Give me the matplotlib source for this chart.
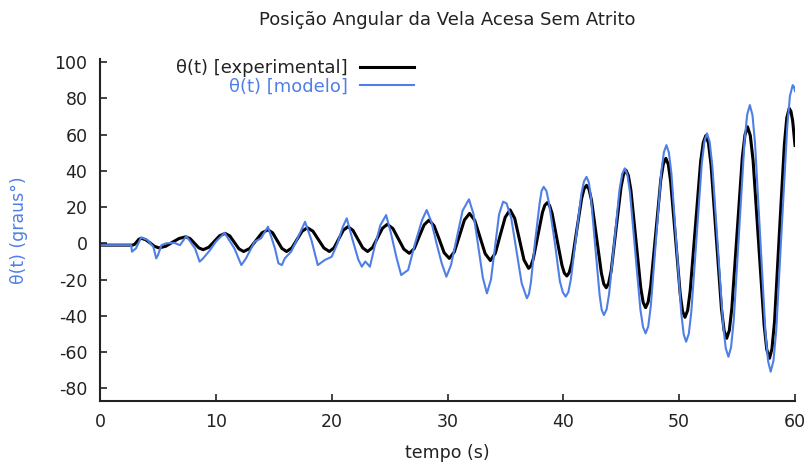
import numpy as np
import matplotlib
matplotlib.use("Agg")
import matplotlib.pyplot as plt

# theta(t): black (experimental) and blue (modelo)
exp_t = [0, 2.8, 2.99, 3.18, 3.36, 3.55,
         3.94, 4.33, 4.71, 5.1, 5.68, 6.25, 6.83, 7.4,
         7.78, 8.15, 8.53, 8.9, 9.38, 9.85, 10.33, 10.8,
         11.2, 11.6, 12.0, 12.4, 12.93, 13.45, 13.98, 14.5,
         14.9, 15.3, 15.7, 16.1, 16.55, 17.0, 17.45, 17.9,
         18.38, 18.85, 19.33, 19.8, 20.2, 20.6, 21.0, 21.4,
         21.83, 22.25, 22.68, 23.1, 23.53, 23.95, 24.38, 24.8,
         25.28, 25.75, 26.23, 26.7, 27.13, 27.55, 27.98, 28.4,
         28.84, 29.28, 29.71, 30.15, 30.59, 31.03, 31.46, 31.9,
         32.35, 32.8, 33.25, 33.7, 34.13, 34.55, 34.98, 35.4,
         35.8, 36.2, 36.6, 37.0,
         37.2, 37.4, 37.8, 38.2, 38.4, 38.6,
         38.81, 39.03, 39.45, 39.88, 40.09, 40.3,
         40.51, 40.73, 41.15, 41.58, 41.79, 42.0,
         42.21, 42.43, 42.85, 43.28, 43.49, 43.7,
         43.91, 44.13, 44.55, 44.98, 45.19, 45.4,
         45.61, 45.83, 46.25, 46.68, 46.89, 47.1,
         47.32, 47.54, 47.98, 48.41, 48.63, 48.85,
         49.06, 49.26, 49.68, 50.09, 50.29, 50.5,
         50.73, 50.95, 51.4, 51.85, 52.08, 52.3,
         52.53, 52.75, 53.2, 53.65, 53.88, 54.1,
         54.33, 54.55, 55.0, 55.45, 55.68, 55.9,
         56.14, 56.38, 56.85, 57.33, 57.56, 57.8,
         58.01, 58.23, 58.65, 59.08, 59.29, 59.5,
         59.65, 59.8, 60]
exp_theta = [-1, -1, -0.5, 0.9, 2.3, 2.8,
             2.0, 0.2, -1.7, -2.5, -1.6, 0.6, 2.7, 3.6,
             2.6, 0.1, -2.5, -3.5, -2.2, 1.0, 4.2, 5.5,
             4.1, 0.5, -3.1, -4.5, -2.8, 1.5, 5.8, 7.5,
             5.8, 1.5, -2.8, -4.5, -2.6, 2.1, 6.7, 8.6,
             6.7, 2.1, -2.6, -4.5, -2.5, 2.4, 7.2, 9.2,
             7.2, 2.4, -2.5, -4.5, -2.3, 3.0, 8.3, 10.5,
             8.2, 2.5, -3.2, -5.5, -2.9, 3.7, 10.2, 12.8,
             9.7, 2.3, -5.2, -8.3, -4.7, 4.1, 12.9, 16.5,
             12.7, 3.5, -5.7, -9.5, -5.4, 4.5, 14.4, 18.5,
             13.8, 2.4, -9.1, -13.8,
             -12.4, -8.6, 4.3, 17.2, 21.0, 22.4,
             20.9, 16.5, 2.2, -12.1, -16.5, -18.0,
             -16.1, -10.8, 7.0, 24.8, 30.1, 32.0,
             29.9, 23.8, 3.8, -16.3, -22.4, -24.5,
             -22.0, -15.1, 8.0, 31.0, 37.9, 40.4,
             37.5, 29.4, 2.5, -24.5, -32.6, -35.5,
             -32.4, -23.6, 5.7, 35.0, 43.8, 46.9,
             43.6, 34.2, 3.1, -28.1, -37.5, -40.8,
             -37.0, -26.3, 9.4, 45.0, 55.7, 59.5,
             55.3, 43.3, 3.6, -36.2, -48.2, -52.4,
             -48.0, -35.5, 6.0, 47.4, 59.9, 64.3,
             59.5, 45.8, 0.5, -44.9, -58.6, -63.4,
             -58.2, -43.4, 5.6, 54.5, 69.3, 74.5,
             72.8, 67.5, 54.0]

mod_t = [0, 2.7, 2.75, 3.1, 3.55, 4.1, 4.6, 4.85, 5.0, 5.3, 5.7, 6.4,
         6.9, 7.45, 8.2, 8.6, 8.9, 9.5, 10.0, 10.75, 11.6, 12.2, 12.6,
         13.35, 13.9, 14.5, 15.1, 15.4, 15.7, 15.95, 16.5, 17.0, 17.7,
         18.25, 18.8, 19.4, 20.0, 20.5, 20.95, 21.3, 21.8, 22.3, 22.6,
         22.9, 23.3, 23.7, 24.2, 24.7, 25.1, 25.6, 26.0, 26.6, 27.2,
         27.8, 28.2, 28.6, 29.05, 29.5, 29.9, 30.3, 30.8, 31.3, 31.85,
         32.25, 32.65, 33.05, 33.4, 33.75, 34.1, 34.45, 34.8, 35.1,
         35.5, 35.95, 36.4, 36.85,
         37.03, 37.2, 37.55, 37.95, 38.12, 38.3,
         38.54, 38.75, 39.25, 39.7, 39.96, 40.2,
         40.43, 40.65, 41.1, 41.55, 41.78, 42.0,
         42.19, 42.38, 42.75, 43.13, 43.31, 43.5,
         43.73, 43.95, 44.4, 44.85, 45.08, 45.3,
         45.53, 45.75, 46.2, 46.65, 46.88, 47.1,
         47.33, 47.55, 48.0, 48.45, 48.68, 48.9,
         49.11, 49.33, 49.75, 50.18, 50.39, 50.6,
         50.83, 51.05, 51.5, 51.95, 52.18, 52.4,
         52.63, 52.86, 53.33, 53.79, 54.02, 54.25,
         54.48, 54.71, 55.18, 55.64, 55.87, 56.1,
         56.33, 56.55, 57.0, 57.45, 57.68, 57.9,
         58.14, 58.38, 58.85, 59.33, 59.56, 59.8,
         59.9, 60]
mod_theta = [-1, -1, -4.6, -2.8, 3.3, 1.8, -1.9, -8.3, -6.5, -1, 0, 0.3,
             -1, 4, -2.8, -10.1, -8.3, -3.7, 0.9, 5.8, -2.8, -12, -8.3,
             0.9, 2.8, 9.2, -2.8, -11, -12, -8.3, -4.6, 2, 11.9,
             1.8, -12, -9.2, -7.4, 0, 9, 13.8, 2, -9, -12.9,
             -10, -12.9, -2, 10, 15.6, 6, -8, -17.5, -14.7, 0,
             12.8, 18.4, 12, 0, -11, -18.4, -12, 3, 18, 24.3,
             16, -1.5, -19, -27.6, -20, -2, 16, 23, 22,
             14, -4, -22, -30.3,
             -28.0, -21.5, 0.5, 22.0, 28.9, 31.2,
             28.9, 22.5, 1.0, -21.0, -27.1, -29.4,
             -26.9, -19.8, 3.7, 27.1, 34.2, 36.7,
             33.8, 25.6, -1.5, -28.5, -36.7, -39.6,
             -36.5, -27.9, 0.9, 29.7, 38.3, 41.4,
             37.9, 28.2, -4.2, -36.5, -46.2, -49.7,
             -45.8, -34.6, 2.3, 39.1, 50.3, 54.2,
             50.1, 38.5, 0.0, -38.6, -50.2, -54.3,
             -49.9, -37.6, 3.2, 44.0, 56.3, 60.7,
             56.0, 42.8, -1.0, -44.7, -57.9, -62.6,
             -57.3, -42.5, 6.9, 56.2, 71.0, 76.3,
             70.7, 55.0, 2.8, -49.5, -65.2, -70.8,
             -64.8, -47.9, 8.3, 64.4, 81.3, 87.3,
             86.5, 84.0]

x_ticks = [0, 10, 20, 30, 40, 50, 60]
y_ticks = [-80, -60, -40, -20, 0, 20, 40, 60, 80, 100]

blue = '#4f7fe6'
ink = '#222222'
fs = 12.5
fs_text = 13

plt.rcParams['axes.unicode_minus'] = False

fig = plt.figure(figsize=(8.1, 4.66), dpi=100)
ax = fig.add_axes([0.1235, 0.1395, 0.858, 0.733])

ax.plot(exp_t, exp_theta, color='black', lw=2.2, label='θ(t) [experimental]')
ax.plot(mod_t, mod_theta, color=blue, lw=1.5, label='θ(t) [modelo]')

ax.set_xlim(0, 60)
ax.set_ylim(-87, 101.5)
ax.set_xticks(x_ticks)
ax.set_yticks(y_ticks)
ax.tick_params(direction='in', length=5, width=1.2, labelsize=fs, pad=9,
               colors=ink)
for side in ['top', 'right']:
    ax.spines[side].set_visible(False)
for side in ['left', 'bottom']:
    ax.spines[side].set_linewidth(1.5)
    ax.spines[side].set_color(ink)

ax.set_title('Posição Angular da Vela Acesa Sem Atrito', fontsize=fs_text,
             color=ink, pad=25)
ax.set_xlabel('tempo (s)', fontsize=fs, color=ink, labelpad=9)
ax.set_ylabel('θ(t) (graus°)', fontsize=fs, color=blue, labelpad=19)

leg = ax.legend(loc='upper right', bbox_to_anchor=(0.452, 1.0), frameon=False,
                markerfirst=False, labelcolor='linecolor', fontsize=fs_text,
                handlelength=3.0, handletextpad=0.68, labelspacing=0.0,
                borderpad=0, borderaxespad=0)
leg.get_texts()[0].set_color(ink)

fig.savefig('out.png', dpi=100)
